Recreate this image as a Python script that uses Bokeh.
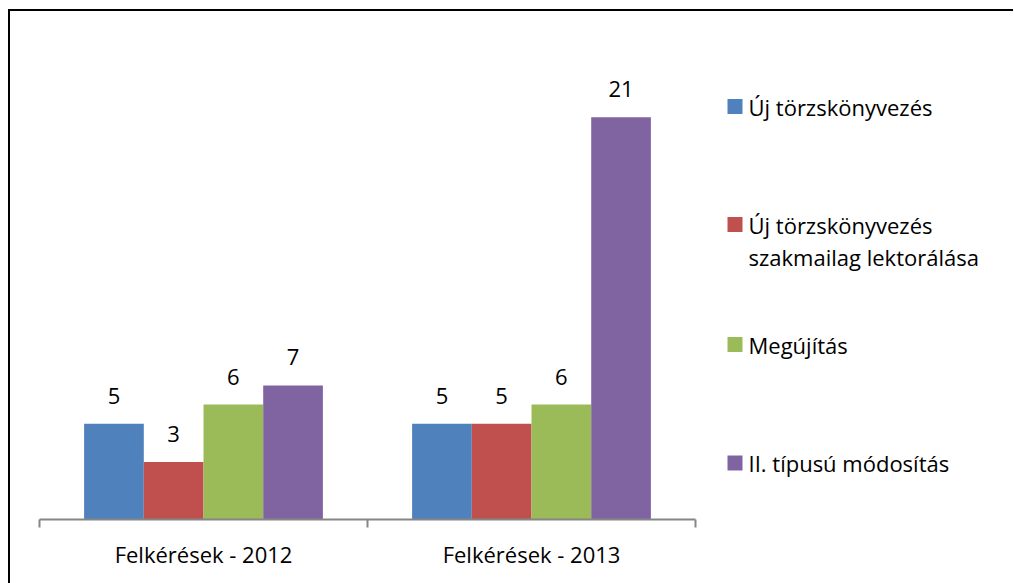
from bokeh.plotting import figure
from bokeh.models import ColumnDataSource, FixedTicker, Range1d
from bokeh.core.properties import value
from bokeh.embed import file_html
from bokeh.resources import INLINE

categories = ["Felkérések - 2012", "Felkérések - 2013"]
series = ["Új törzskönyvezés", "Új törzskönyvezés\nszakmailag lektorálása", "Megújítás", "II. típusú módosítás"]
values = [
    [5, 5],
    [3, 5],
    [6, 6],
    [7, 21],
]
colors = ["#4F81BD", "#C0504D", "#9BBB59", "#8064A2"]

FONT = "Open Sans"
FS = "22px"
bar_w = 0.182
unit_px = 328.0          # pixels per category on the x axis
frame_w, frame_h = 974, 475

p = figure(frame_width=frame_w, frame_height=frame_h, width=1004, height=572,
           min_border_left=29, min_border_top=33, min_border_right=0, min_border_bottom=64,
           x_range=Range1d(0, frame_w / unit_px), y_range=Range1d(0, 24.8),
           output_backend="svg", toolbar_location=None)
p.margin = (9, 0, 0, 8)
p.styles = {"border-top": "2px solid black", "border-left": "2px solid black"}
p.outline_line_color = None
p.xgrid.visible = False
p.ygrid.visible = False
p.yaxis.visible = False
p.extra_x_ranges = {"px": Range1d(0, frame_w)}
p.extra_y_ranges = {"px": Range1d(0, frame_h)}

for k, (name, vals, col) in enumerate(zip(series, values, colors)):
    xs = [i + 0.5 + (k - 1.5) * bar_w for i in range(len(categories))]
    src = ColumnDataSource(dict(x=xs, top=vals, lab=[str(v) for v in vals]))
    p.vbar(x="x", top="top", bottom=0, width=bar_w, source=src,
           fill_color=col, line_color=None)
    p.text(x="x", y="top", text="lab", source=src, text_align="center",
           text_baseline="middle", y_offset=-28, text_font=value(FONT),
           text_font_size=FS, text_color="#000000")

ax = p.xaxis[0]
ax.bounds = (0, len(categories))
ax.ticker = FixedTicker(ticks=[i + 0.5 for i in range(len(categories))],
                        minor_ticks=list(range(len(categories) + 1)))
ax.major_label_overrides = {i + 0.5: c for i, c in enumerate(categories)}
ax.major_tick_line_color = None
ax.minor_tick_line_color = "#868686"
ax.minor_tick_line_width = 2
ax.minor_tick_in = 0
ax.minor_tick_out = 8
ax.axis_line_color = "#868686"
ax.axis_line_width = 2
ax.major_label_text_font = FONT
ax.major_label_text_font_size = FS
ax.major_label_text_color = "#000000"
ax.major_label_standoff = 11

# manual legend (pixel positions inside the frame, measured from bottom-left)
leg_x = 688          # left edge of the legend squares
leg_y = [413, 295, 175, 56.5]   # centres of the squares
line_gap = 32
for name, col, yc in zip(series, colors, leg_y):
    p.rect(x=leg_x + 7.5, y=yc, width=15, height=15, fill_color=col, line_color=None,
           x_range_name="px", y_range_name="px")
    for j, line in enumerate(name.split("\n")):
        p.text(x=[leg_x + 21], y=[yc - j * line_gap], text=[line], text_align="left",
               text_baseline="middle", text_font=value(FONT), text_font_size=FS,
               text_color="#000000", x_range_name="px", y_range_name="px")

open("out.html", "w").write(file_html(p, INLINE))
